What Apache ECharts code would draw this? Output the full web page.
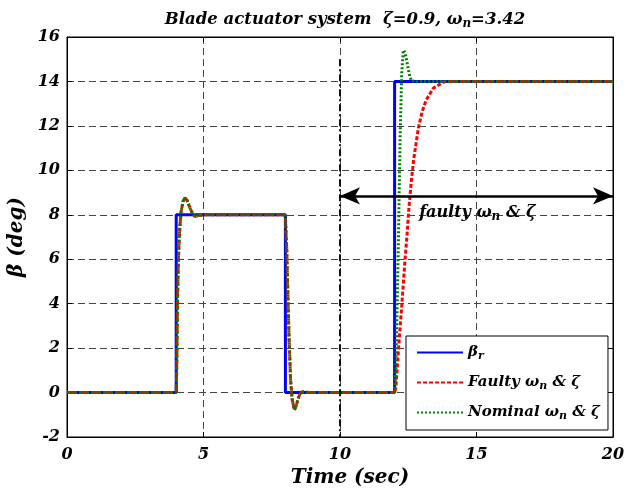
<!DOCTYPE html>
<html>
<head>
<meta charset="utf-8">
<script src="https://cdn.jsdelivr.net/npm/echarts@6/dist/echarts.min.js"></script>
<style>
html, body { margin: 0; padding: 0; background: #fff; }
#chart { width: 627px; height: 491px; }
</style>
</head>
<body>
<div id="chart"></div>
<script>
var FONT = 'DejaVu Serif'

// reference pitch beta_r (step input)
var refT = [0, 4, 4, 8, 8, 12, 12, 20]
var refV = [0, 0, 8, 8, 0, 0, 14, 14]

// response with nominal omega_n & zeta
var nomT = [0, 4, 4.01, 4.03, 4.05, 4.09, 4.13, 4.18, 4.25, 4.32, 4.4, 4.51, 4.6, 4.69, 4.8, 5,
    7.97, 8.0, 8.05, 8.08, 8.13, 8.19, 8.25, 8.33, 8.4, 8.45, 8.52, 8.6, 8.7, 9,
    12, 12.04, 12.08, 12.14, 12.2, 12.26, 12.32, 12.38, 12.44, 12.5, 12.56, 12.62, 12.69, 12.8, 13, 20]
var nomV = [0, 0, 0.5, 2.0, 4.4, 6.3, 7.4, 8.14, 8.6, 8.77, 8.65, 8.29, 8.05, 7.92, 7.96, 8,
    8, 7.9, 6.41, 4.91, 2.66, 0.56, -0.33, -0.78, -0.6, -0.33, -0.1, 0.04, 0.02, 0,
    0, 0.9, 3.13, 6.86, 11.36, 14.37, 15.41, 15.3, 14.96, 14.55, 14.21, 14.02, 13.97, 13.99, 14, 14]

// response with faulty omega_n & zeta (fault active after t = 10)
var faultT = [0, 4, 4.01, 4.03, 4.05, 4.09, 4.13, 4.18, 4.25, 4.32, 4.4, 4.51, 4.6, 4.69, 4.8, 5,
    7.97, 8.0, 8.05, 8.08, 8.13, 8.19, 8.25, 8.33, 8.4, 8.45, 8.52, 8.6, 8.7, 9,
    12, 12.05, 12.14, 12.26, 12.38, 12.45, 12.53, 12.62, 12.7, 12.87, 13.0, 13.15, 13.42, 13.8, 14.2, 20]
var faultV = [0, 0, 0.5, 2.0, 4.4, 6.3, 7.4, 8.14, 8.6, 8.77, 8.65, 8.29, 8.05, 7.92, 7.96, 8,
    8, 7.9, 6.41, 4.91, 2.66, 0.56, -0.33, -0.78, -0.6, -0.33, -0.1, 0.04, 0.02, 0,
    0, 0.25, 1.91, 3.87, 5.96, 7.0, 8.4, 9.6, 10.5, 11.9, 12.6, 13.15, 13.7, 13.98, 14, 14]

// annotation: fault onset and fault window
var faultStart = 10
var faultEnd = 20
var faultLineTop = 15
var arrowY = 8.85
var noteAt = [12.9, 8.08]

var xMin = 0, xMax = 20, xStep = 5
var yMin = -2, yMax = 16, yStep = 2

var zip = function (ts, vs) {
    var out = []
    for (var i = 0; i < ts.length; i++) {
        out.push([ts[i], vs[i]])
    }
    return out
}

var txt = {
    fontFamily: FONT,
    fontWeight: 'bold',
    fontStyle: 'italic',
    color: '#000'
}
var sub = function (size) {
    return {
        fontFamily: FONT, fontWeight: 'bold', fontStyle: 'italic', color: '#000',
        fontSize: size, verticalAlign: 'bottom', padding: [Math.round(size * 0.7), 0, 0, 0]
    }
}

var legendNames = {
    ref: 'β{sub|r}',
    faulty: 'Faulty ω{sub|n} & ζ',
    nominal: 'Nominal ω{sub|n} & ζ'
}

var gridLine = { show: true, lineStyle: { color: '#444', width: 1, type: [7, 4] } }
var boxLine = { show: true, onZero: false, lineStyle: { color: '#000' } }
var inTick = { inside: true, length: 5, lineStyle: { color: '#000' } }

var option = {
    animation: false,
    backgroundColor: '#fff',
    title: {
        text: 'Blade actuator system  ζ=0.9, ω{sub|n}=3.42',
        left: 340,
        top: 5,
        textAlign: 'center',
        textStyle: Object.assign({ fontSize: 16.5, rich: { sub: sub(12) } }, txt)
    },
    grid: {
        left: 67, right: 14, top: 37, bottom: 54,
        outerBoundsMode: 'none',
        containLabel: false,
        show: true, borderColor: '#000', borderWidth: 1
    },
    legend: {
        orient: 'vertical',
        left: 406,
        top: 336,
        itemWidth: 46,
        itemHeight: 14,
        itemGap: 13,
        padding: [9, 8, 8, 10],
        borderColor: '#000',
        borderWidth: 1,
        backgroundColor: '#fff',
        itemStyle: { opacity: 0 },
        data: ['ref', 'faulty', 'nominal'],
        formatter: function (name) { return legendNames[name] },
        textStyle: Object.assign({ fontSize: 15, rich: { sub: sub(11) } }, txt)
    },
    xAxis: [{
        type: 'value', min: xMin, max: xMax, interval: xStep,
        name: 'Time (sec)', nameLocation: 'middle', nameGap: 31,
        nameTextStyle: Object.assign({ fontSize: 20, padding: [0, 0, 0, 20] }, txt),
        axisLine: boxLine,
        axisTick: inTick,
        axisLabel: Object.assign({ fontSize: 16, margin: 10 }, txt),
        splitLine: gridLine
    }, {
        type: 'value', min: xMin, max: xMax, interval: xStep, position: 'top',
        axisLine: boxLine,
        axisTick: inTick,
        axisLabel: { show: false },
        splitLine: { show: false }
    }],
    yAxis: [{
        type: 'value', min: yMin, max: yMax, interval: yStep,
        name: 'β (deg)', nameLocation: 'middle', nameGap: 33, nameRotate: 90,
        nameTextStyle: Object.assign({ fontSize: 20 }, txt),
        axisLine: boxLine,
        axisTick: inTick,
        axisLabel: Object.assign({ fontSize: 16, margin: 7 }, txt),
        splitLine: gridLine
    }, {
        type: 'value', min: yMin, max: yMax, interval: yStep, position: 'right',
        axisLine: boxLine,
        axisTick: inTick,
        axisLabel: { show: false },
        splitLine: { show: false }
    }],
    series: [{
        name: 'ref',
        type: 'line',
        data: zip(refT, refV),
        showSymbol: false,
        symbol: 'none',
        lineStyle: { color: '#0000ff', width: 3 },
        itemStyle: { color: '#0000ff' },
        markLine: {
            silent: true,
            symbol: 'none',
            label: { show: false },
            lineStyle: { color: '#111', width: 2, type: [7, 3, 2, 3] },
            data: [[{ coord: [faultStart, faultLineTop] }, { coord: [faultStart, yMin] }]]
        }
    }, {
        name: 'faulty',
        type: 'line',
        data: zip(faultT, faultV),
        showSymbol: false,
        symbol: 'none',
        lineStyle: { color: '#ff0000', width: 3, type: [4, 2] },
        itemStyle: { color: '#ff0000' },
        markLine: {
            silent: true,
            symbol: ['arrow', 'arrow'],
            symbolSize: [13, 20],
            label: { show: false },
            lineStyle: { color: '#000', width: 2.5, type: 'solid' },
            data: [[{ coord: [faultStart, arrowY] }, { coord: [faultEnd, arrowY] }]]
        }
    }, {
        name: 'nominal',
        type: 'line',
        data: zip(nomT, nomV),
        showSymbol: false,
        symbol: 'none',
        lineStyle: { color: '#008000', width: 3, type: [2, 2] },
        itemStyle: { color: '#008000' },
        markPoint: {
            silent: true,
            symbol: 'circle',
            symbolSize: 0,
            itemStyle: { opacity: 1 },
            label: {
                show: true,
                position: 'right',
                distance: 0,
                formatter: 'faulty ω{sub|n} & ζ',
                fontFamily: FONT, fontWeight: 'bold', fontStyle: 'italic', color: '#000', fontSize: 16,
                rich: { sub: sub(12) }
            },
            data: [{ coord: noteAt }]
        }
    }]
}

var chart = echarts.init(document.getElementById('chart'))
chart.setOption(option)
</script>
</body>
</html>
